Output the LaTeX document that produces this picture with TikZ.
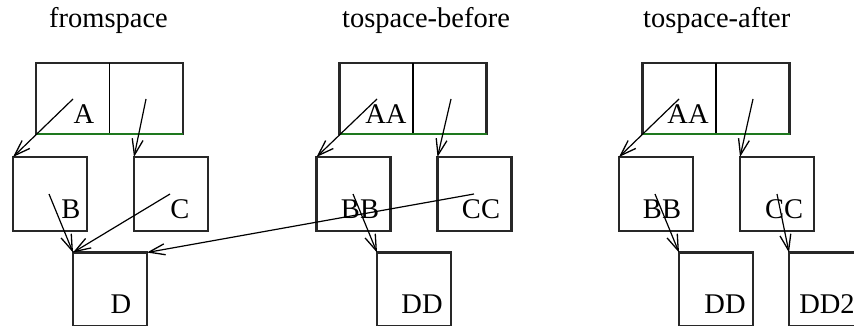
\documentclass[tikz,border=0pt]{standalone}
\usepackage{fontspec}
\setmainfont{Liberation Serif}
\usetikzlibrary{arrows.meta}
\definecolor{boxgray}{RGB}{40,40,40}
\definecolor{tailgreen}{RGB}{30,120,30}
\tikzset{
	cell/.style={draw=boxgray,line width=2.4pt,minimum width=74pt,minimum height=74pt,inner sep=0pt,outer sep=0pt},
	pair/.style={draw=boxgray,line width=2.4pt,minimum width=147pt,minimum height=71pt,inner sep=0pt,outer sep=0pt},
	ptr/.style={line width=1.2pt,-{Straight Barb[length=16pt,width=11pt,line width=1.3pt]}},
	lab/.style={anchor=base,inner sep=0pt},
	title/.style={anchor=base west,inner sep=0pt}
}
\begin{document}
\begin{tikzpicture}
	[
		x=1pt,
		y=-1pt,
		font=\fontsize{28.5}{32}\selectfont
	]
		\useasboundingbox (0,0) rectangle (854,326);
		% titles
		\node[title] (t1) at (49,28) {fromspace};
		\node[title] (t2) at (342,28) {tospace-before};
		\node[title] (t3) at (643,28) {tospace-after};
		% fromspace
		\node[pair] (p1) at (109.5,98.5) {};
		\draw [line width=1.2pt] (p1.north) -- (p1.south);
		\draw [line width=1.8pt,color=tailgreen] (p1.south west) -- (p1.south east);
		\node[cell] (b1) at (50,194) {};
		\node[cell] (c1) at (171,194) {};
		\node[cell] (d1) at (110,289.5) {};
		\node[lab] (la1) at (84,124) {A};
		\node[lab] (lb1) at (71,218) {B};
		\node[lab] (lc1) at (180,218) {C};
		\node[lab] (ld1) at (121,313) {D};
		\coordinate (sa1) at (73,99);
		\coordinate (sr1) at (146,99);
		\coordinate (sb1) at (49,194);
		\coordinate (sc1) at (170,194);
		\draw [ptr] (sa1) -- (b1.north west);
		\draw [ptr] (sr1) -- (c1.north west);
		\draw [ptr] (sb1) -- (d1.north west);
		\draw [ptr] (sc1) -- (d1.north west);
		% tospace-before
		\node[pair] (p2) at (413,98.5) {};
		\draw [line width=1.2pt] (p2.north) -- (p2.south);
		\draw [line width=1.8pt,color=tailgreen] (p2.south west) -- (p2.south east);
		\node[cell] (b2) at (353.5,194) {};
		\node[cell] (c2) at (474.5,194) {};
		\node[cell] (d2) at (414,289.5) {};
		\node[lab] (la2) at (386,124) {AA};
		\node[lab] (lb2) at (360,218) {BB};
		\node[lab] (lc2) at (481,218) {CC};
		\node[lab] (ld2) at (422,313) {DD};
		\coordinate (sa2) at (377,99);
		\coordinate (sr2) at (451,99);
		\coordinate (sb2) at (353,194);
		\coordinate (sc2) at (474,194);
		\draw [ptr] (sa2) -- (b2.north west);
		\draw [ptr] (sr2) -- (c2.north west);
		\draw [ptr] (sb2) -- (d2.north west);
		\draw [ptr] (sc2) -- (d1.north east);
		% tospace-after
		\node[pair] (p3) at (716,98.5) {};
		\draw [line width=1.2pt] (p3.north) -- (p3.south);
		\draw [line width=1.8pt,color=tailgreen] (p3.south west) -- (p3.south east);
		\node[cell] (b3) at (656,194) {};
		\node[cell] (c3) at (777,194) {};
		\node[cell] (d3) at (716,289.5) {};
		\node[cell] (e3) at (826,289.5) {};
		\node[lab] (la3) at (688,124) {AA};
		\node[lab] (lb3) at (662,218) {BB};
		\node[lab] (lc3) at (784,218) {CC};
		\node[lab] (ld3) at (725,313) {DD};
		\node[lab] (le3) at (827,313) {DD2};
		\coordinate (sa3) at (679,99);
		\coordinate (sr3) at (753,99);
		\coordinate (sb3) at (655,194);
		\coordinate (sc3) at (777,194);
		\draw [ptr] (sa3) -- (b3.north west);
		\draw [ptr] (sr3) -- (c3.north west);
		\draw [ptr] (sb3) -- (d3.north west);
		\draw [ptr] (sc3) -- (e3.north west);
	\end{tikzpicture}
\end{document}
